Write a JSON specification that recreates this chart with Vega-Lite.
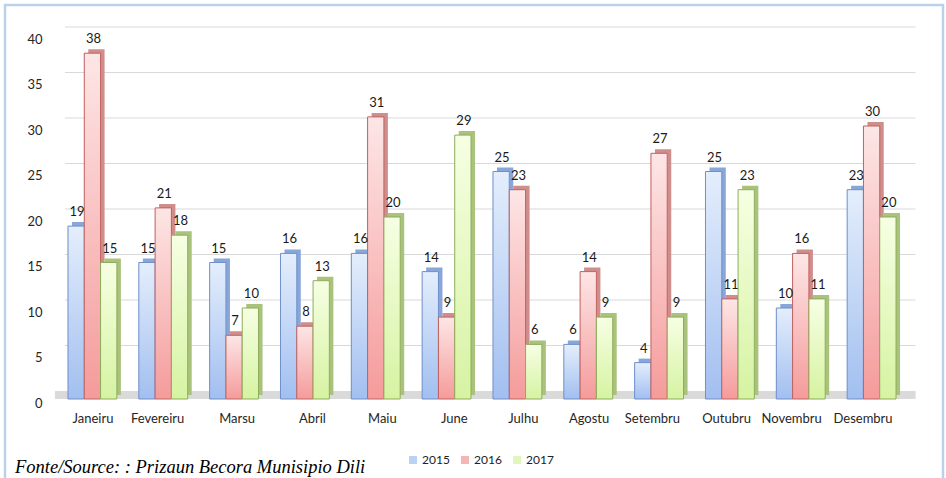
{
  "$schema": "https://vega.github.io/schema/vega-lite/v6.json",
  "width": 938,
  "height": 476,
  "autosize": {"type": "none"},
  "padding": {"left": 5, "top": 5, "right": 3, "bottom": 0},
  "background": "white",
  "config": {
    "view": {"stroke": "#b9d1ea", "strokeWidth": 2.5},
    "font": "Lato",
    "legend": {"title": null}
  },
  "title": {
    "text": "Fonte/Source: : Prizaun Becora Munisipio Dili",
    "orient": "bottom",
    "anchor": "start",
    "frame": "group",
    "offset": -8,
    "dx": 10,
    "baseline": "alphabetic",
    "font": "Liberation Serif",
    "fontStyle": "italic",
    "fontWeight": "normal",
    "fontSize": 18.5,
    "color": "#000000"
  },
  "datasets": {
    "grid": [{"v": 5}, {"v": 10}, {"v": 15}, {"v": 20}, {"v": 25}, {"v": 30}, {"v": 35}, {"v": 40}],
    "floor": [{"v": 0}]
  },
  "data": {
    "values": [
      {"month": "Janeiru", "year": "2015", "value": 19},
      {"month": "Fevereiru", "year": "2015", "value": 15},
      {"month": "Marsu", "year": "2015", "value": 15},
      {"month": "Abril", "year": "2015", "value": 16},
      {"month": "Maiu", "year": "2015", "value": 16},
      {"month": "June", "year": "2015", "value": 14},
      {"month": "Julhu", "year": "2015", "value": 25},
      {"month": "Agostu", "year": "2015", "value": 6},
      {"month": "Setembru", "year": "2015", "value": 4},
      {"month": "Outubru", "year": "2015", "value": 25},
      {"month": "Novembru", "year": "2015", "value": 10},
      {"month": "Desembru", "year": "2015", "value": 23},
      {"month": "Janeiru", "year": "2016", "value": 38},
      {"month": "Fevereiru", "year": "2016", "value": 21},
      {"month": "Marsu", "year": "2016", "value": 7},
      {"month": "Abril", "year": "2016", "value": 8},
      {"month": "Maiu", "year": "2016", "value": 31},
      {"month": "June", "year": "2016", "value": 9},
      {"month": "Julhu", "year": "2016", "value": 23},
      {"month": "Agostu", "year": "2016", "value": 14},
      {"month": "Setembru", "year": "2016", "value": 27},
      {"month": "Outubru", "year": "2016", "value": 11},
      {"month": "Novembru", "year": "2016", "value": 16},
      {"month": "Desembru", "year": "2016", "value": 30},
      {"month": "Janeiru", "year": "2017", "value": 15},
      {"month": "Fevereiru", "year": "2017", "value": 18},
      {"month": "Marsu", "year": "2017", "value": 10},
      {"month": "Abril", "year": "2017", "value": 13},
      {"month": "Maiu", "year": "2017", "value": 20},
      {"month": "June", "year": "2017", "value": 29},
      {"month": "Julhu", "year": "2017", "value": 6},
      {"month": "Agostu", "year": "2017", "value": 9},
      {"month": "Setembru", "year": "2017", "value": 9},
      {"month": "Outubru", "year": "2017", "value": 23},
      {"month": "Novembru", "year": "2017", "value": 11},
      {"month": "Desembru", "year": "2017", "value": 20}
    ]
  },
  "resolve": {"scale": {"xOffset": "independent"}},
  "layer": [
    {
      "data": {"name": "grid"},
      "mark": {"type": "rule", "color": "#d9d9d9", "strokeWidth": 1, "yOffset": -8, "xOffset": -27.5, "x2Offset": 44},
      "encoding": {
        "y": {"field": "v", "type": "quantitative"},
        "x": {"datum": "Janeiru"},
        "x2": {"datum": "Desembru"}
      }
    },
    {
      "data": {"name": "floor"},
      "mark": {"type": "rule", "color": "#dadada", "strokeWidth": 8, "yOffset": -4, "xOffset": -37.5, "x2Offset": 44},
      "encoding": {
        "y": {"field": "v", "type": "quantitative"},
        "x": {"datum": "Janeiru"},
        "x2": {"datum": "Desembru"}
      }
    },
    {
      "mark": {"type": "bar", "yOffset": -4, "y2Offset": -4},
      "encoding": {
        "x": {"field": "month", "type": "nominal"},
        "xOffset": {"field": "year", "type": "nominal", "scale": {"domain": ["2015", "2016", "2017"], "range": [4, 52.9]}},
        "y": {"field": "value", "type": "quantitative"},
        "fill": {
          "condition": [
            {"test": "datum.year === '2015'", "value": "#88a6d8"},
            {"test": "datum.year === '2016'", "value": "#cf8d8b"}
          ],
          "value": "#a9c27c"
        }
      }
    },
    {
      "mark": {"type": "bar"},
      "encoding": {
        "x": {
          "field": "month",
          "type": "nominal",
          "scale": {
            "domain": ["Janeiru", "Fevereiru", "Marsu", "Abril", "Maiu", "June", "Julhu", "Agostu", "Setembru", "Outubru", "Novembru", "Desembru"],
            "range": [52, 902],
            "paddingInner": 0.31,
            "paddingOuter": 0.155
          },
          "axis": {
            "title": null,
            "domain": false,
            "ticks": false,
            "tickSize": 0,
            "labelPadding": 2,
            "offset": -65,
            "labelAngle": 0,
            "labelFontSize": 13,
            "labelFont": "Lato",
            "labelColor": "#262626",
            "labelOffset": 21,
            "grid": false
          }
        },
        "xOffset": {"field": "year", "type": "nominal", "scale": {"domain": ["2015", "2016", "2017"]}},
        "y": {
          "field": "value",
          "type": "quantitative",
          "scale": {"domain": [0, 40], "range": [394, 30], "nice": false},
          "axis": {
            "title": null,
            "values": [0, 5, 10, 15, 20, 25, 30, 35, 40],
            "grid": false,
            "domain": false,
            "ticks": false,
            "tickSize": 0,
            "labelPadding": 3,
            "offset": -40,
            "labelOffset": 4,
            "labelFontSize": 13,
            "labelFont": "Lato",
            "labelColor": "#262626"
          }
        },
        "color": {
          "field": "year",
          "type": "nominal",
          "scale": {"domain": ["2015", "2016", "2017"], "range": ["#bcd2f5", "#f6b4b4", "#e1f6bd"]},
          "legend": {
            "title": null,
            "orient": "none",
            "legendX": 402,
            "legendY": 449,
            "direction": "horizontal",
            "symbolType": "square",
            "symbolSize": 64,
            "symbolStrokeWidth": 1,
            "labelFontSize": 12,
            "labelFont": "Lato",
            "labelColor": "#222222",
            "labelOffset": 3,
            "columnPadding": 9,
            "padding": 0
          }
        }
      }
    },
    {
      "mark": {"type": "bar", "strokeWidth": 1},
      "encoding": {
        "x": {"field": "month", "type": "nominal"},
        "xOffset": {"field": "year", "type": "nominal", "scale": {"domain": ["2015", "2016", "2017"]}},
        "y": {"field": "value", "type": "quantitative"},
        "fill": {
          "condition": [
            {"test": "datum.year === '2015'", "value": {"gradient": "linear", "x1": 0, "y1": 0, "x2": 0, "y2": 1, "stops": [{"offset": 0, "color": "#e4eefc"}, {"offset": 1, "color": "#a2bff0"}]}},
            {"test": "datum.year === '2016'", "value": {"gradient": "linear", "x1": 0, "y1": 0, "x2": 0, "y2": 1, "stops": [{"offset": 0, "color": "#fde6e6"}, {"offset": 1, "color": "#f59b9b"}]}}
          ],
          "value": {"gradient": "linear", "x1": 0, "y1": 0, "x2": 0, "y2": 1, "stops": [{"offset": 0, "color": "#f6ffe3"}, {"offset": 1, "color": "#d6f3a2"}]}
        },
        "stroke": {
          "condition": [
            {"test": "datum.year === '2015'", "value": "#6f8fca"},
            {"test": "datum.year === '2016'", "value": "#c0625f"}
          ],
          "value": "#8fac5c"
        }
      }
    },
    {
      "mark": {"type": "text", "baseline": "alphabetic", "dy": -10, "fontSize": 13, "font": "Lato", "color": "#1a1a1a"},
      "encoding": {
        "x": {"field": "month", "type": "nominal"},
        "xOffset": {"field": "year", "type": "nominal", "scale": {"domain": ["2015", "2016", "2017"], "range": [1, 49.9]}},
        "y": {"field": "value", "type": "quantitative"},
        "text": {"field": "value", "type": "quantitative"}
      }
    }
  ]
}
